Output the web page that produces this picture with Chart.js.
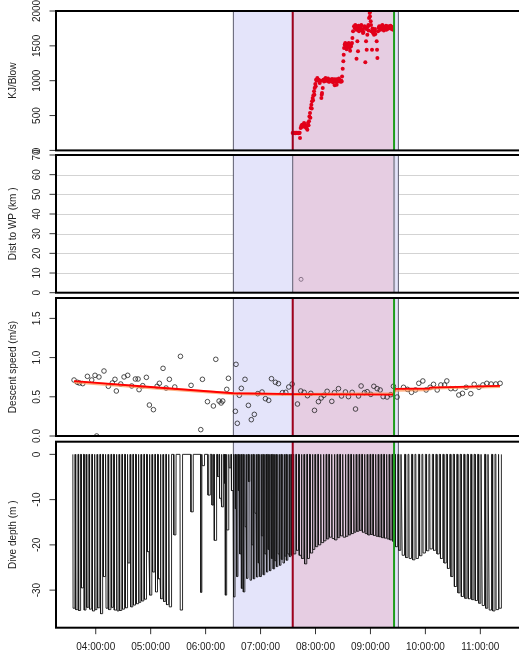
<!DOCTYPE html>
<html>
<head>
<meta charset="utf-8">
<script src="https://cdn.jsdelivr.net/npm/chart.js@4.4.0/dist/chart.umd.min.js"></script>
<style>
  html, body { margin: 0; padding: 0; background: #fff; overflow: hidden; }
  #wrap { position: relative; width: 519px; height: 657px; overflow: hidden; background: #fff; }
  #wrap canvas { position: absolute; left: 0; top: 0; }
</style>
</head>
<body>
<div id="wrap">
  <canvas id="c1" width="530" height="657"></canvas>
  <canvas id="c2" width="530" height="657"></canvas>
  <canvas id="c3" width="530" height="657"></canvas>
  <canvas id="c4" width="530" height="657"></canvas>
</div>
<script>
// ---- time axis (minutes after midnight) ----
const hourTicks  = [240, 300, 360, 420, 480, 540, 600, 660];
const hourLabels = ['04:00:00', '05:00:00', '06:00:00', '07:00:00', '08:00:00', '09:00:00', '10:00:00', '11:00:00'];

// ---- shaded periods and event markers (minutes) ----
const blueWindow = [390.3, 570.5];
const pinkWindow = [455.1, 565.8];
const startEvent = 455.1;
const endEvent   = 565.8;

// ---- KJ per blow ----
const kjTime = [455.1,455.6,456.2,456.8,457.3,457.9,458.4,459.0,459.5,460.1,460.6,461.1,461.6,462.2,462.7,463.1,463.8,464.5,465.3,465.9,
  466.4,467.0,467.5,468.2,468.9,469.5,470.0,470.6,471.1,471.8,472.4,472.9,473.3,474.0,474.4,474.8,475.5,475.9,476.2,476.9,
  477.3,477.7,478.4,478.8,479.1,479.8,480.2,480.6,481.3,482.0,482.7,483.5,484.6,485.5,486.4,486.8,487.1,487.9,488.6,489.3,
  490.0,491.0,491.9,492.8,493.7,494.5,495.5,496.4,497.3,498.0,499.1,500.0,501.0,501.5,502.8,503.1,503.8,504.6,505.5,506.4,
  507.3,508.2,509.0,509.7,510.4,510.8,511.2,511.9,512.5,513.1,513.7,514.0,514.5,515.5,516.3,517.3,517.8,518.2,519.2,520.3,
  521.0,522.1,522.8,523.5,524.6,524.8,525.7,526.0,526.4,527.5,528.0,529.4,530.0,530.8,531.9,532.3,533.0,534.4,535.2,535.5,
  535.9,536.6,537.4,538.0,538.5,539.2,539.5,539.9,540.3,540.6,541.0,541.7,542.8,543.9,544.5,545.4,546.8,547.2,547.6,548.3,
  549.0,550.1,551.0,551.9,553.0,553.7,555.6,556.5,557.4,558.3,559.2,560.0,561.0,562.0,562.8,564.0,564.7,
  490.5,492.3,494.0,496.0,498.6,500.5,502.2,504.2,506.0,508.6,512.2,513.4,515.0,516.8,518.7,519.8,
  523.0,525.2,527.0,529.0,531.2,533.6,536.2,537.8,542.2,543.4,545.0,549.6,552.4,554.6,557.0,559.6,561.5,563.4];
const kjValue = [250,255,248,252,250,246,252,250,255,248,250,252,247,250,253,178,321,350,369,340,
  345,360,393,370,345,330,321,350,297,393,360,417,488,536,470,608,656,600,704,752,
  720,790,847,800,895,953,920,1015,1000,1039,1010,1015,967,1000,752,800,823,895,1015,990,
  1020,1040,1000,1010,1030,985,990,1015,1010,1025,975,1005,933,1000,1020,943,1010,990,1030,1005,
  985,1000,1062,1173,1278,1373,1469,1517,1540,1500,1493,1450,1470,1517,1540,1479,1430,1500,1526,1613,
  1708,1780,1756,1800,1732,1316,1565,1760,1421,1708,1740,1780,1800,1732,1684,1700,1756,1263,1565,1740,
  1445,1660,1780,1720,1900,1971,1920,1995,1852,1800,1708,1445,1684,1660,1720,1670,1565,1445,1326,1708,
  1760,1756,1730,1780,1800,1746,1766,1770,1732,1740,1780,1760,1756,1790,1746,1770,1732,
  1000,1025,1010,995,1000,1020,990,1005,1015,990,1520,1480,1500,1510,1490,1540,
  1770,1740,1790,1760,1720,1780,1760,1800,1750,1700,1740,1780,1760,1720,1790,1750,1770,1745];

// ---- distance to WP ----
const distTime  = [464.2];
const distValue = [6.8];

// ---- descent speed ----
const speedTime = [216.3,219.9,222.1,225.8,230.9,235.6,239.2,241.0,243.5,249.0,253.8,258.1,261.0,262.5,267.3,270.9,274.9,279.3,283.3,286.2,
  287.3,291.3,295.3,298.6,303.0,307.0,309.5,313.5,316.8,320.4,326.3,332.5,344.1,354.7,356.5,362.0,368.5,371.1,374.7,376.9,
  378.7,383.1,384.9,392.5,393.2,394.6,396.8,399.0,403.0,406.7,409.9,413.2,416.9,421.6,425.3,428.9,431.9,436.2,439.5,443.9,
  447.5,450.8,454.5,460.3,463.9,467.6,471.2,474.9,478.9,483.2,486.2,489.1,492.7,497.8,500.7,505.1,508.4,512.7,516.0,520.0,
  523.7,527.0,529.8,533.5,536.4,540.4,543.7,547.3,550.6,553.9,558.2,562.2,565.1,569.1,576.1,580.4,584.8,589.2,592.8,597.2,
  600.8,605.2,608.9,612.9,616.9,620.9,623.4,627.8,632.5,636.5,640.5,644.5,649.6,653.3,658.4,662.8,667.1,671.8,676.9,681.6];
const speedValue = [0.714,0.685,0.676,0.668,0.761,0.714,0.774,0.000,0.753,0.829,0.634,0.676,0.723,0.574,0.663,0.753,0.774,0.638,0.727,0.727,
  0.591,0.642,0.748,0.395,0.336,0.634,0.672,0.863,0.612,0.723,0.625,1.016,0.646,0.081,0.723,0.438,0.383,0.978,0.446,0.421,
  0.446,0.595,0.736,0.315,0.914,0.162,0.519,0.608,0.723,0.391,0.208,0.276,0.540,0.561,0.476,0.455,0.731,0.685,0.668,0.553,
  0.557,0.625,0.663,0.408,0.574,0.557,0.514,0.544,0.327,0.438,0.485,0.519,0.570,0.442,0.553,0.604,0.510,0.561,0.502,0.557,
  0.344,0.510,0.638,0.553,0.565,0.531,0.634,0.604,0.587,0.502,0.497,0.527,0.634,0.497,0.621,0.595,0.557,0.587,0.672,0.702,
  0.587,0.621,0.659,0.587,0.651,0.651,0.702,0.604,0.604,0.523,0.544,0.621,0.540,0.659,0.621,0.651,0.672,0.663,0.663,0.672];

// smoothed descent speed (two fits)
const fitRedTime     = [216.3, 300.0, 390.3, 455.1, 565.0, 566.8, 604.0, 605.1, 681.5];
const fitRedValue    = [0.700, 0.625, 0.545, 0.535, 0.527, 0.600, 0.606, 0.618, 0.638];
const fitOrangeTime  = [216.3, 300.0, 390.3, 455.1, 565.0, 566.8, 600.0, 610.0, 681.5];
const fitOrangeValue = [0.688, 0.615, 0.540, 0.530, 0.540, 0.582, 0.590, 0.612, 0.630];

// ---- dives: start time (min) and maximum depth (m) ----
const diveStart = [215.0,218.0,221.1,224.0,227.2,230.1,233.0,236.2,239.1,242.0,245.0,248.1,251.0,254.0,257.1,260.0,263.1,266.0,269.0,272.1,
  275.0,278.1,281.0,284.0,287.1,290.0,293.0,296.0,299.0,302.0,305.0,308.0,311.0,314.0,317.0,320.0,
  325.0,332.0,343.7,354.6,356.0,362.3,366.7,369.2,372.8,375.0,377.6,380.1,381.5,383.0,385.5,388.0,
  390.6,392.4,394.0,395.6,397.2,399.0,401.0,403.0,404.8,406.6,408.4,410.2,412.0,413.8,415.6,417.4,419.2,421.0,422.8,424.6,
  426.4,428.2,430.0,431.8,433.6,435.4,437.2,439.0,440.8,442.6,444.4,446.2,448.0,449.8,451.6,453.4,
  456.0,459.0,462.0,465.0,468.0,471.0,474.0,477.0,480.0,483.0,486.0,489.0,492.0,495.0,498.0,501.0,504.0,507.0,510.0,513.0,
  516.0,519.0,522.0,525.0,528.0,531.0,534.0,537.0,540.0,543.0,546.0,549.0,552.0,555.0,558.0,561.0,564.0,
  567.0,570.6,574.4,578.2,582.0,585.8,589.6,593.4,597.2,601.0,604.8,608.6,612.4,616.2,620.0,623.8,627.6,631.4,635.2,639.0,
  642.8,646.6,650.4,654.2,658.0,661.8,665.6,669.4,673.2,677.0,680.2];
const diveDepth = [-34.0,-34.3,-34.5,-29.5,-34.4,-33.8,-34.2,-34.6,-34.3,-33.9,-35.2,-27.0,-34.0,-34.3,-33.8,-34.4,-34.6,-34.5,-34.2,-33.9,
  -24.0,-33.7,-33.3,-33.0,-32.7,-32.4,-32.0,-21.5,-31.1,-26.0,-30.4,-27.5,-31.9,-32.5,-33.2,-33.7,
  -17.8,-34.4,-12.7,-30.5,-2.5,-9.0,-11.2,-19.0,-4.9,-9.7,-11.6,-6.4,-31.1,-16.7,-3.0,-8.0,
  -31.5,-12.0,-27.0,-8.0,-22.0,-29.6,-30.4,-16.0,-27.4,-6.0,-27.8,-20.0,-27.5,-13.0,-27.1,-24.0,-27.0,-18.0,-26.6,-22.0,
  -26.0,-21.0,-25.7,-23.0,-25.3,-23.5,-24.8,-22.0,-24.5,-23.2,-24.0,-22.5,-23.4,-22.0,-22.6,-22.3,
  -22.0,-21.2,-22.3,-23.0,-24.2,-23.0,-21.8,-21.0,-20.4,-20.0,-19.5,-19.1,-18.7,-18.3,-18.6,-18.9,-18.4,-18.0,-18.3,-18.1,
  -17.8,-17.5,-17.2,-17.0,-16.8,-17.2,-17.5,-17.8,-17.7,-17.9,-18.1,-18.2,-18.4,-18.5,-18.7,-18.9,-19.2,
  -20.4,-21.2,-22.3,-22.8,-23.0,-23.3,-23.0,-22.4,-21.8,-21.3,-20.9,-21.2,-22.0,-23.0,-24.0,-25.2,-27.0,-29.2,-30.6,-31.4,
  -31.8,-31.9,-32.1,-32.3,-32.9,-33.4,-34.0,-34.4,-34.6,-34.3,-34.0];

// ---- helpers ----
const zip = (xs, ys) => xs.map((x, i) => ({ x: x, y: ys[i] }));

// depth trace: surface -> descent -> bottom -> ascent -> surface for every dive
function divePath(starts, depths) {
  const pts = [];
  for (let i = 0; i < starts.length; i++) {
    const t = starts[i];
    const gap = i < starts.length - 1 ? starts[i + 1] - t : 3.5;
    const dur = Math.min(gap * 0.82, 2.8);
    pts.push({ x: t, y: 0 }, { x: t + dur * 0.1, y: depths[i] },
             { x: t + dur * 0.9, y: depths[i] }, { x: t + dur, y: 0 });
  }
  return pts;
}

// ---- layout ----
const W = 530, H = 657;
const PLOT_LEFT = 56, PLOT_RIGHT = 523;
const X_MIN = 196.6, X_MAX = 706.6;
const FONT = '10px "Liberation Sans", Arial, sans-serif';
const TEXT = '#222';

const panels = [
  { id: 'c1', top: 11, bottom: 150.4, min: 0, max: 2000,
    ticks: [0, 500, 1000, 1500, 2000], labels: ['0', '500', '1000', '1500', '2000'],
    title: 'KJ/Blow', grid: false, events: true, xAxis: false },
  { id: 'c2', top: 155, bottom: 292.7, min: 0, max: 70,
    ticks: [0, 10, 20, 30, 40, 50, 60, 70], labels: ['0', '10', '20', '30', '40', '50', '60', '70'],
    title: 'Dist to WP (km )', grid: true, events: false, xAxis: false },
  { id: 'c3', top: 298, bottom: 436, min: 0, max: 1.76,
    ticks: [0, 0.5, 1, 1.5], labels: ['0.0', '0.5', '1.0', '1.5'],
    title: 'Descent speed (m/s)', grid: false, events: true, xAxis: false },
  { id: 'c4', top: 441.7, bottom: 627.7, min: -38.3, max: 2.8,
    ticks: [0, -10, -20, -30], labels: ['0', '-10', '-20', '-30'],
    title: 'Dive depth (m )', grid: false, events: true, xAxis: true }
];

const datasetsFor = {
  c1: [{
    data: zip(kjTime, kjValue), pointRadius: 2, pointBackgroundColor: '#E2001A',
    pointBorderWidth: 0, showLine: false
  }],
  c2: [{
    data: zip(distTime, distValue), pointRadius: 2, pointBackgroundColor: 'rgba(0,0,0,0)',
    pointBorderColor: '#8a768a', pointBorderWidth: 1, showLine: false
  }],
  c3: [
    { data: zip(fitRedTime, fitRedValue), showLine: true, pointRadius: 0,
      borderColor: '#FF0000', borderWidth: 1.8, tension: 0 },
    { data: zip(fitOrangeTime, fitOrangeValue), showLine: true, pointRadius: 0,
      borderColor: 'rgba(255,150,90,0.75)', borderWidth: 3, tension: 0 },
    { data: zip(speedTime, speedValue), showLine: false, pointRadius: 2.3,
      pointBackgroundColor: 'rgba(0,0,0,0)', pointBorderColor: '#222', pointBorderWidth: 0.8 }
  ],
  c4: [{
    data: divePath(diveStart, diveDepth), showLine: true, pointRadius: 0,
    borderColor: '#141414', borderWidth: 0.9, tension: 0
  }]
};

// shading, grid and window borders under the data
const backdrop = {
  id: 'backdrop',
  beforeDatasetsDraw(chart) {
    const { ctx, chartArea: a, scales: { x, y } } = chart;
    const p = chart.options.panel;
    ctx.save();
    ctx.beginPath(); ctx.rect(a.left, a.top, a.right - a.left, a.bottom - a.top); ctx.clip();
    if (p.grid) {
      ctx.strokeStyle = '#D3D3D3'; ctx.lineWidth = 1;
      p.ticks.forEach(v => {
        const py = Math.round(y.getPixelForValue(v)) + 0.5;
        ctx.beginPath(); ctx.moveTo(a.left, py); ctx.lineTo(a.right, py); ctx.stroke();
      });
    }
    const bx0 = x.getPixelForValue(blueWindow[0]), bx1 = x.getPixelForValue(blueWindow[1]);
    ctx.fillStyle = '#E4E4FA';
    ctx.fillRect(bx0, a.top, bx1 - bx0, a.bottom - a.top);
    const px0 = x.getPixelForValue(pinkWindow[0]), px1 = x.getPixelForValue(pinkWindow[1]);
    ctx.fillStyle = '#E6CDE2';
    ctx.fillRect(px0, a.top, px1 - px0, a.bottom - a.top);
    ctx.strokeStyle = '#5c5c6e'; ctx.lineWidth = 1;
    [bx0, bx1, px0].forEach(px => {
      ctx.beginPath(); ctx.moveTo(px, a.top); ctx.lineTo(px, a.bottom); ctx.stroke();
    });
    ctx.strokeStyle = '#9a98a8'; ctx.lineWidth = p.events ? 1 : 2;
    ctx.beginPath(); ctx.moveTo(px1, a.top); ctx.lineTo(px1, a.bottom); ctx.stroke();
    ctx.restore();
  },
  afterDatasetsDraw(chart) {
    const p = chart.options.panel;
    if (!p.events) return;
    const { ctx, chartArea: a, scales: { x } } = chart;
    ctx.save();
    ctx.lineWidth = 2;
    ctx.strokeStyle = '#A0001C';
    let px = x.getPixelForValue(startEvent);
    ctx.beginPath(); ctx.moveTo(px, a.top); ctx.lineTo(px, a.bottom); ctx.stroke();
    ctx.strokeStyle = '#1C9E1C';
    px = x.getPixelForValue(endEvent);
    ctx.beginPath(); ctx.moveTo(px, a.top); ctx.lineTo(px, a.bottom); ctx.stroke();
    ctx.restore();
  }
};

// box, axis ticks, tick labels and titles
const frame = {
  id: 'frame',
  afterDraw(chart) {
    const { ctx, chartArea: a, scales: { x, y } } = chart;
    const p = chart.options.panel;
    ctx.save();
    ctx.fillStyle = TEXT;
    ctx.font = FONT;
    ctx.strokeStyle = '#333'; ctx.lineWidth = 1;
    p.ticks.forEach((v, i) => {
      const py = y.getPixelForValue(v);
      ctx.beginPath(); ctx.moveTo(a.left - 6.5, py); ctx.lineTo(a.left, py); ctx.stroke();
      ctx.save();
      ctx.translate(37.7, py); ctx.rotate(-Math.PI / 2);
      ctx.textAlign = 'center'; ctx.textBaseline = 'middle';
      ctx.fillText(p.labels[i], 0, 0);
      ctx.restore();
    });
    ctx.save();
    ctx.translate(13.3, (a.top + a.bottom) / 2); ctx.rotate(-Math.PI / 2);
    ctx.textAlign = 'center'; ctx.textBaseline = 'middle';
    ctx.fillText(p.title, 0, 0);
    ctx.restore();
    if (p.xAxis) {
      hourTicks.forEach((v, i) => {
        const px = x.getPixelForValue(v);
        ctx.beginPath(); ctx.moveTo(px, a.bottom); ctx.lineTo(px, a.bottom + 6.5); ctx.stroke();
        ctx.textAlign = 'center'; ctx.textBaseline = 'middle';
        ctx.fillText(hourLabels[i], px, 647);
      });
    }
    ctx.strokeStyle = '#000'; ctx.lineWidth = 2;
    ctx.strokeRect(a.left, a.top, a.right - a.left, a.bottom - a.top);
    ctx.restore();
  }
};

panels.forEach(p => {
  new Chart(document.getElementById(p.id), {
    type: 'scatter',
    data: { datasets: datasetsFor[p.id] },
    options: {
      panel: p,
      responsive: false,
      animation: false,
      devicePixelRatio: 1,
      events: [],
      layout: { padding: { left: PLOT_LEFT, right: W - PLOT_RIGHT, top: p.top, bottom: H - p.bottom } },
      plugins: { legend: { display: false }, tooltip: { enabled: false } },
      scales: {
        x: { type: 'linear', min: X_MIN, max: X_MAX, display: false },
        y: { type: 'linear', min: p.min, max: p.max, display: false }
      }
    },
    plugins: [backdrop, frame]
  });
});
</script>
</body>
</html>
